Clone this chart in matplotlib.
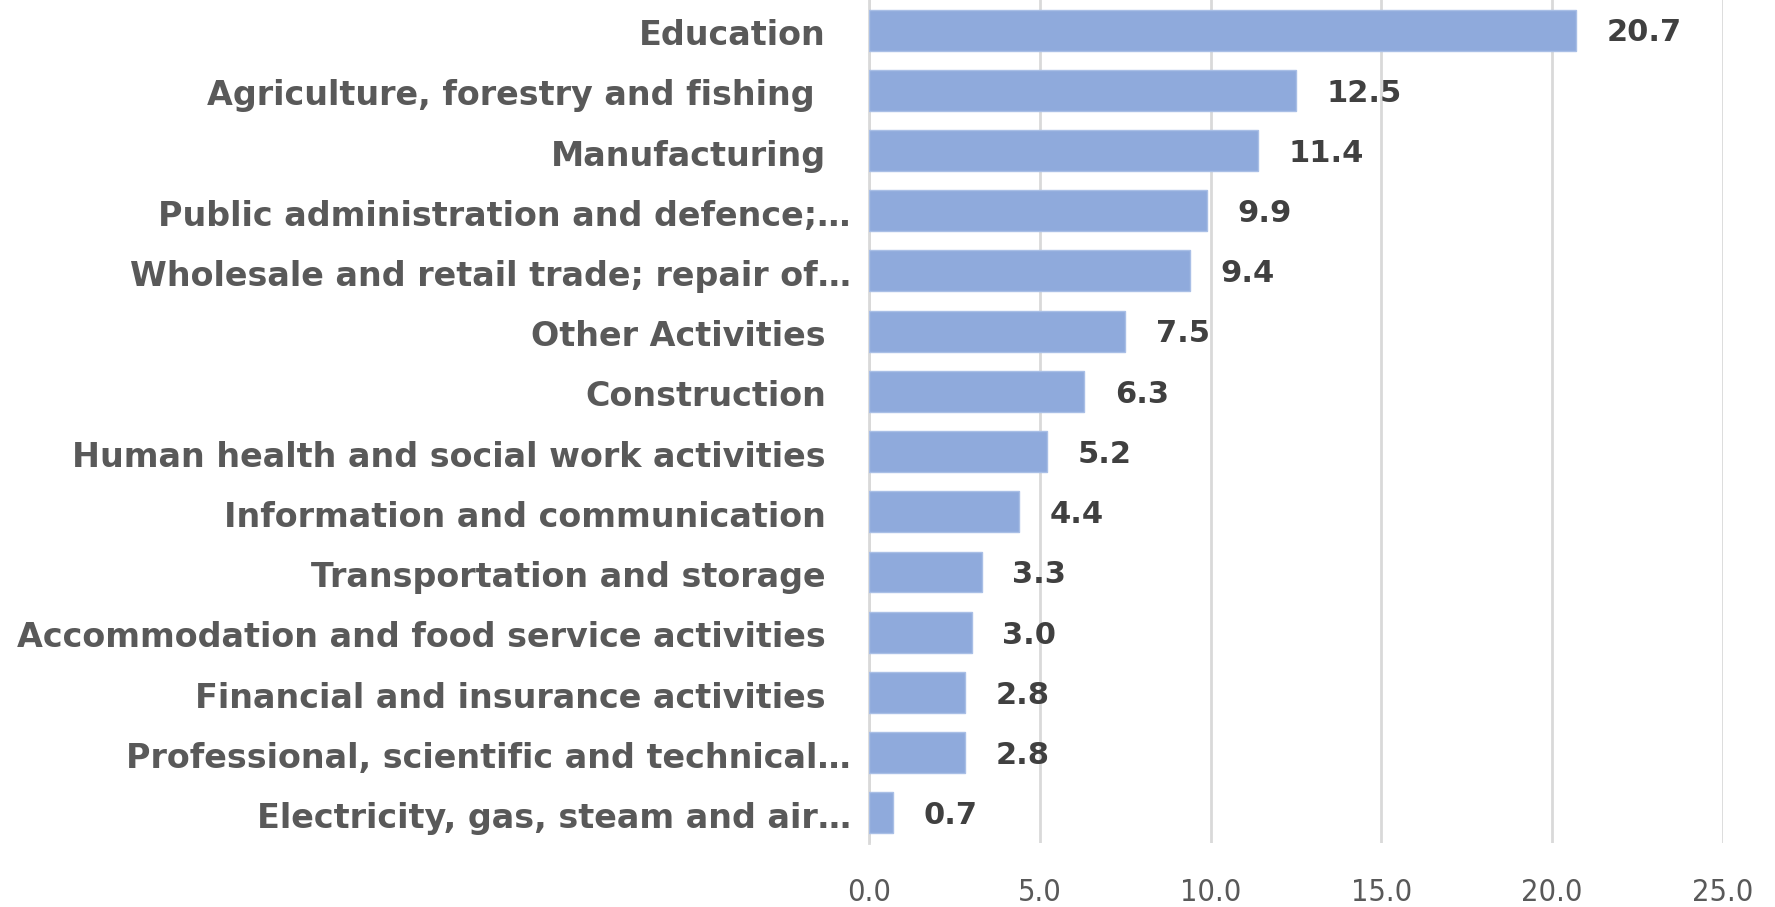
import matplotlib
matplotlib.use("Agg")
import matplotlib.pyplot as plt
import matplotlib.transforms as mtransforms

categories = [
    "Education",
    "Agriculture, forestry and fishing ",
    "Manufacturing",
    "Public administration and defence;…",
    "Wholesale and retail trade; repair of…",
    "Other Activities",
    "Construction",
    "Human health and social work activities",
    "Information and communication",
    "Transportation and storage",
    "Accommodation and food service activities",
    "Financial and insurance activities",
    "Professional, scientific and technical…",
    "Electricity, gas, steam and air…",
]
values = [20.7, 12.5, 11.4, 9.9, 9.4, 7.5, 6.3, 5.2, 4.4, 3.3, 3.0, 2.8, 2.8, 0.7]
xticks = [0, 5, 10, 15, 20, 25]
xtick_labels = ["0.0", "5.0", "10.0", "15.0", "20.0", "25.0"]

fig = plt.figure(figsize=(17.75, 9.07), dpi=100)
ax = fig.add_axes([0.4896, 0.0706, 0.4811, 0.9294])

y = list(range(len(categories)))
ax.barh(y, values, height=0.68, color="#8faadc", edgecolor="#a9bfe6", linewidth=1, zorder=3)
ax.set_ylim(len(categories) - 0.5, -0.5)
ax.set_xlim(0, 25)

ax.set_xticks(xticks)
ax.set_xticklabels(xtick_labels, fontsize=22, color="#595959",
                   family="DejaVu Sans", fontstretch="condensed")
ax.tick_params(axis="x", length=0, pad=25)
ax.set_yticks(y)
ax.set_yticklabels(categories, fontsize=24, color="#595959", fontweight="bold")
ax.tick_params(axis="y", length=0, pad=31)

dx = mtransforms.ScaledTranslation(18 / 72, 0, fig.dpi_scale_trans)
for lab in ax.get_yticklabels():
    if lab.get_text().endswith("…"):
        lab.set_transform(lab.get_transform() + dx)
dy = mtransforms.ScaledTranslation(0, -1.5 / 72, fig.dpi_scale_trans)
for lab in ax.get_yticklabels():
    lab.set_transform(lab.get_transform() + dy)

for yi, v in zip(y, values):
    ax.annotate(f"{v:.1f}", xy=(v, yi), xytext=(22, -2), textcoords="offset points",
                va="center", ha="left", fontsize=22, fontweight="bold", color="#404040")

ax.grid(axis="x", color="#d9d9d9", linewidth=2, zorder=0)
for s in ["top", "right", "bottom"]:
    ax.spines[s].set_visible(False)
ax.spines["left"].set_color("#d9d9d9")
ax.spines["left"].set_linewidth(2)

fig.savefig("out.png", dpi=100, facecolor="white")
